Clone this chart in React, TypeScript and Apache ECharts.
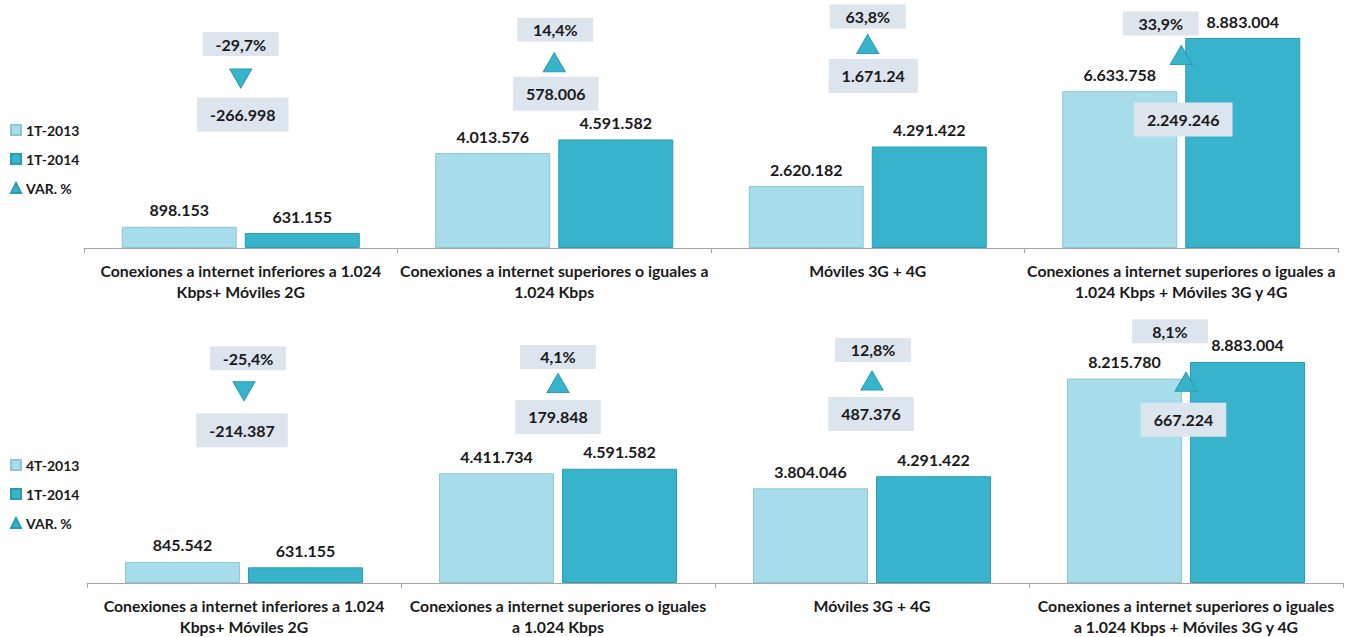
import React, { useEffect, useRef } from "react";
import * as echarts from "echarts";

// ---------- data ----------
const topCategories = [
  "Conexiones a internet inferiores a 1.024\nKbps+ Móviles 2G",
  "Conexiones a internet superiores o iguales a\n1.024 Kbps",
  "Móviles 3G + 4G",
  "Conexiones a internet superiores o iguales a\n1.024 Kbps + Móviles 3G y 4G",
];
const bottomCategories = [
  "Conexiones a internet inferiores a 1.024\nKbps+ Móviles 2G",
  "Conexiones a internet superiores o iguales\na 1.024 Kbps",
  "Móviles 3G + 4G",
  "Conexiones a internet superiores o iguales\na 1.024 Kbps + Móviles 3G y 4G",
];
const topPrevName = "1T-2013";
const bottomPrevName = "4T-2013";
const currName = "1T-2014";
const varName = "VAR. %";

const topPrev = [898153, 4013576, 2620182, 6633758];
const topCurr = [631155, 4591582, 4291422, 8883004];
const topVarPct = [-29.7, 14.4, 63.8, 33.9];
const topDiffLabels = ["-266.998", "578.006", "1.671.24", "2.249.246"];

const bottomPrev = [845542, 4411734, 3804046, 8215780];
const bottomCurr = [631155, 4591582, 4291422, 8883004];
const bottomVarPct = [-25.4, 4.1, 12.8, 8.1];
const bottomDiffLabels = ["-214.387", "179.848", "487.376", "667.224"];

// ---------- label placement (style only) ----------
const topPctOffset = [[0, -34.5], [1, -32.5], [0, -27.5], [-20.5, -31.5]];
const topDiffOffset = [[2, 36], [1.5, 31.5], [5.5, 32], [2, 64.5]];
const bottomPctOffset = [[4, -33], [0, -26], [1, -30.5], [-16, -50.5]];
const bottomDiffOffset = [[-2, 39], [0, 34], [-1, 33.5], [-2.5, 38]];

const FONT = 'Lato, "Open Sans", "DejaVu Sans", sans-serif';
const LIGHT = "#A7DDEA";
const DARK = "#37B4CB";
const BOX = "#DCE4EE";
const TXT = "#1a1a1a";

const fmtThousands = (v: number) =>
  String(Math.round(v)).replace(/\B(?=(\d{3})+(?!\d))/g, ".");
const fmtPct = (v: number) => v.toFixed(1).replace(".", ",") + "%";

function buildPanel(
  idx: number,
  prevName: string,
  prev: number[],
  curr: number[],
  pct: number[],
  diffLabels: string[],
  pctOff: number[][],
  diffOff: number[][]
) {
  const xAxis = idx * 1;
  const yMain = idx * 2;
  const ySec = idx * 2 + 1;
  const valueLabel = {
    show: true,
    position: "top",
    distance: 9,
    fontFamily: FONT,
    fontSize: 16,
    fontWeight: "bold",
    color: TXT,
    formatter: (p: any) => fmtThousands(p.value),
  };
  const boxText = {
    fontFamily: FONT,
    fontSize: 16,
    fontWeight: "bold",
    color: TXT,
    opacity: 1,
    textBorderWidth: 0,
    textBorderColor: "transparent",
    backgroundColor: BOX,
    align: "center",
    verticalAlign: "middle",
  };
  return [
    {
      type: "bar",
      name: prevName,
      xAxisIndex: xAxis,
      yAxisIndex: yMain,
      data: prev,
      barWidth: 115,
      barGap: "7%",
      itemStyle: { color: LIGHT, borderColor: "#8CC6D4", borderWidth: 1 },
      label: valueLabel,
    },
    {
      type: "bar",
      name: currName,
      xAxisIndex: xAxis,
      yAxisIndex: yMain,
      data: curr,
      barWidth: 115,
      barGap: "7%",
      itemStyle: { color: DARK, borderColor: "#2A9DB2", borderWidth: 1 },
      label: valueLabel,
    },
    {
      type: "scatter",
      name: varName,
      xAxisIndex: xAxis,
      yAxisIndex: ySec,
      z: 5,
      symbol: "triangle",
      symbolSize: [22, 19],
      itemStyle: { color: DARK, borderColor: "#2A9DB2", borderWidth: 1, opacity: 1 },
      data: pct.map((v, i) => ({
        value: [i, v],
        symbolRotate: v < 0 ? 180 : 0,
        label: { offset: pctOff[i] },
      })),
      label: {
        show: true,
        position: "inside",
        formatter: (p: any) => fmtPct(p.value[1]),
        ...boxText,
        width: 76,
        height: 24,
        lineHeight: 24,
      },
    },
    {
      type: "scatter",
      name: "diff" + idx,
      xAxisIndex: xAxis,
      yAxisIndex: ySec,
      z: 6,
      symbol: "rect",
      symbolSize: 1,
      itemStyle: { color: "transparent", opacity: 1 },
      data: pct.map((v, i) => ({
        value: [i, v],
        label: { offset: diffOff[i] },
      })),
      label: {
        show: true,
        position: "inside",
        formatter: (p: any) => diffLabels[p.dataIndex],
        ...boxText,
        padding: [8, 13],
        lineHeight: 18,
      },
    },
  ];
}

function catAxis(gridIndex: number, data: string[]) {
  return {
    type: "category",
    gridIndex,
    data,
    axisLine: { lineStyle: { color: "#A6A6A6", width: 1 } },
    axisTick: { show: true, length: 5, alignWithLabel: false, lineStyle: { color: "#A6A6A6" } },
    axisLabel: {
      interval: 0,
      margin: 12,
      fontFamily: FONT,
      fontSize: 15.8,
      fontWeight: "bold",
      lineHeight: 21,
      color: TXT,
    },
  };
}

function legendFor(top: number, prevName: string) {
  return {
    orient: "vertical",
    left: 5,
    top,
    itemWidth: 10,
    itemHeight: 10,
    itemGap: 15,
    selectedMode: false,
    textStyle: { fontFamily: FONT, fontSize: 14, fontWeight: "bold", color: TXT },
    data: [
      { name: prevName, icon: "rect" },
      { name: currName, icon: "rect" },
      { name: varName, icon: "triangle" },
    ],
  };
}

export default function App() {
  const ref = useRef<HTMLDivElement>(null);
  useEffect(() => {
    if (!ref.current) return;
    const chart = echarts.init(ref.current, undefined, { renderer: "svg" });
    chart.setOption({
      animation: false,
      backgroundColor: "#ffffff",
      grid: [
        { left: 84, right: 18, top: 11.6, height: 236.4 },
        { left: 87, right: 13, top: 334.2, height: 248.8 },
      ],
      legend: [legendFor(118, topPrevName), legendFor(453, bottomPrevName)],
      xAxis: [catAxis(0, topCategories), catAxis(1, bottomCategories)],
      yAxis: [
        { type: "value", gridIndex: 0, min: 0, max: 10000000, show: false },
        { type: "value", gridIndex: 0, min: -487, max: 151, show: false },
        { type: "value", gridIndex: 1, min: 0, max: 10000000, show: false },
        { type: "value", gridIndex: 1, min: -710, max: 178, show: false },
      ],
      series: [
        ...buildPanel(0, topPrevName, topPrev, topCurr, topVarPct, topDiffLabels, topPctOffset, topDiffOffset),
        ...buildPanel(1, bottomPrevName, bottomPrev, bottomCurr, bottomVarPct, bottomDiffLabels, bottomPctOffset, bottomDiffOffset),
      ],
    });
    return () => chart.dispose();
  }, []);
  return (
    <div
      ref={ref}
      style={{ position: "absolute", left: 0, top: 0, width: 1356, height: 637, background: "#fff" }}
    />
  );
}
